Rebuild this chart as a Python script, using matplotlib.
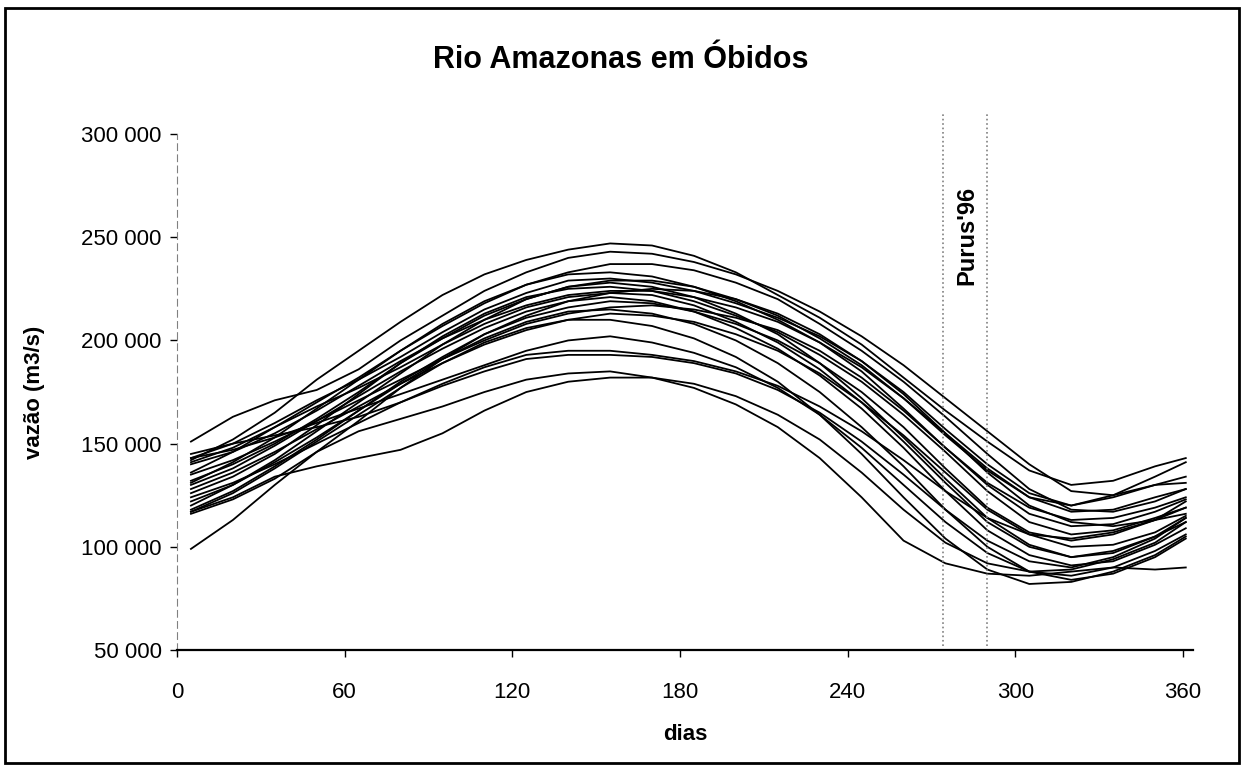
import matplotlib.pyplot as plt
import matplotlib.patches as patches

plt.rcParams['font.family'] = ['Liberation Sans', 'DejaVu Sans']

# dias de leitura (eixo x)
dias = [5, 20, 35, 50, 65, 80, 95, 110, 125, 140, 155, 170, 185,
        200, 215, 230, 245, 260, 275, 290, 305, 320, 335, 350, 361]

# vazões (mil m3/s), um ano por lista
ano01 = [142, 152, 165, 181, 195, 209, 222, 232, 239, 244, 247, 246, 241, 233, 222, 211, 198, 182, 166, 151, 137, 130, 132, 139, 143]
ano02 = [151, 163, 171, 176, 186, 200, 212, 224, 233, 240, 243, 242, 238, 232, 224, 214, 202, 188, 172, 156, 140, 127, 125, 130, 134]
ano03 = [136, 146, 158, 170, 182, 195, 207, 218, 227, 233, 237, 237, 234, 228, 220, 208, 195, 180, 163, 145, 128, 118, 117, 122, 128]
ano04 = [131, 141, 153, 167, 181, 195, 208, 219, 227, 232, 233, 231, 226, 219, 210, 199, 185, 167, 148, 131, 119, 113, 114, 119, 124]
ano05 = [143, 150, 160, 171, 181, 192, 204, 215, 223, 229, 230, 228, 224, 218, 211, 202, 190, 175, 157, 140, 126, 120, 124, 130, 131]
ano06 = [120, 130, 142, 156, 170, 184, 198, 210, 220, 226, 228, 226, 221, 213, 203, 189, 172, 153, 133, 114, 101, 95, 97, 105, 114]
ano07 = [126, 134, 145, 159, 174, 189, 202, 213, 221, 225, 226, 224, 219, 212, 204, 193, 180, 164, 146, 127, 112, 106, 108, 114, 119]
ano08 = [116, 123, 133, 146, 161, 177, 191, 203, 212, 219, 223, 225, 224, 220, 213, 203, 190, 174, 155, 136, 120, 112, 110, 113, 116]
ano09 = [141, 148, 158, 168, 177, 187, 198, 208, 216, 221, 223, 222, 217, 209, 199, 186, 170, 151, 131, 112, 100, 95, 98, 105, 112]
ano10 = [130, 138, 149, 161, 173, 185, 196, 206, 214, 219, 221, 219, 214, 206, 196, 183, 167, 148, 127, 108, 96, 91, 93, 101, 109]
ano11 = [118, 127, 139, 152, 166, 180, 192, 203, 211, 216, 219, 218, 214, 208, 200, 189, 175, 158, 138, 119, 107, 103, 106, 113, 122]
ano12 = [135, 142, 151, 161, 171, 181, 191, 200, 208, 213, 216, 217, 215, 211, 205, 195, 182, 166, 148, 130, 116, 110, 111, 117, 123]
ano13 = [122, 130, 141, 153, 166, 179, 191, 201, 209, 214, 215, 213, 208, 200, 189, 175, 158, 139, 118, 100, 88, 84, 87, 95, 104]
ano14 = [128, 136, 146, 157, 168, 179, 189, 198, 205, 210, 213, 212, 209, 203, 195, 184, 170, 154, 136, 118, 106, 100, 101, 107, 115]
ano15 = [117, 126, 138, 151, 164, 177, 189, 199, 206, 210, 210, 207, 201, 192, 180, 164, 145, 124, 104, 89, 82, 83, 88, 96, 105]
ano16 = [143, 147, 153, 160, 167, 174, 181, 188, 195, 200, 202, 199, 194, 187, 177, 164, 148, 130, 112, 97, 88, 86, 90, 98, 106]
ano17 = [124, 131, 140, 150, 160, 170, 179, 187, 193, 195, 195, 193, 190, 185, 178, 168, 156, 142, 127, 114, 106, 104, 107, 113, 119]
ano18 = [99, 113, 130, 146, 156, 162, 168, 175, 181, 184, 185, 182, 177, 169, 158, 143, 124, 103, 92, 87, 86, 88, 90, 89, 90]
ano19 = [117, 124, 134, 139, 143, 147, 155, 166, 175, 180, 182, 182, 179, 173, 164, 152, 136, 118, 102, 92, 88, 89, 94, 102, 112]
ano20 = [145, 150, 154, 158, 163, 170, 178, 185, 191, 193, 193, 192, 189, 184, 176, 165, 151, 135, 118, 103, 93, 90, 95, 104, 114]
ano21 = [140, 146, 155, 166, 178, 190, 201, 210, 217, 222, 224, 224, 221, 216, 209, 199, 187, 172, 155, 138, 124, 117, 118, 124, 128]
ano22 = [132, 140, 150, 162, 175, 189, 201, 212, 220, 226, 229, 229, 226, 220, 212, 201, 188, 172, 154, 137, 124, 120, 125, 134, 141]

anos = [ano01, ano02, ano03, ano04, ano05, ano06, ano07, ano08, ano09, ano10, ano11,
        ano12, ano13, ano14, ano15, ano16, ano17, ano18, ano19, ano20, ano21, ano22]

purus_dias = [274, 290]
yticks = [50000, 100000, 150000, 200000, 250000, 300000]
xticks = [0, 60, 120, 180, 240, 300, 360]

fig = plt.figure(figsize=(12.49, 7.66), dpi=100)
ax = fig.add_axes([0.1417, 0.1514, 0.8135, 0.6736])

for a in anos:
    ax.plot(dias, [v * 1000 for v in a], color='black', lw=1.3)

# linhas do Purus'96
for d in purus_dias:
    ax.plot([d, d], [52000, 310000], color='grey', lw=1.2, ls=':', clip_on=False)
ax.text(282.5, 251000, "Purus'96", rotation=90, ha='center', va='center',
        fontsize=17, fontweight='bold')

ax.set_xlim(0, 363.6)
ax.set_ylim(50000, 300000)
ax.set_xticks(xticks)
ax.set_yticks(yticks)
ax.set_yticklabels(['{:,}'.format(v).replace(',', ' ') for v in yticks])
ax.tick_params(axis='both', labelsize=16, direction='out', length=5, width=1)
ax.tick_params(axis='x', pad=18)
ax.tick_params(axis='y', pad=6)

ax.spines['top'].set_visible(False)
ax.spines['right'].set_visible(False)
ax.spines['left'].set_color('grey')
ax.spines['left'].set_linestyle((0, (6, 4)))
ax.spines['left'].set_linewidth(0.8)
ax.spines['bottom'].set_linewidth(1.6)

ax.set_xlabel('dias', fontsize=16, fontweight='bold', labelpad=15)
ax.set_ylabel('vazão (m3/s)', fontsize=16, fontweight='bold', labelpad=26)
fig.text(0.497, 0.922, 'Rio Amazonas em Óbidos', ha='center', va='center',
         fontsize=22, fontweight='bold')

# moldura
fig.patches.append(patches.Rectangle((0.004, 0.004), 0.988, 0.985, transform=fig.transFigure,
                                     fill=False, edgecolor='black', lw=2))

plt.savefig('out.png', dpi=100)
